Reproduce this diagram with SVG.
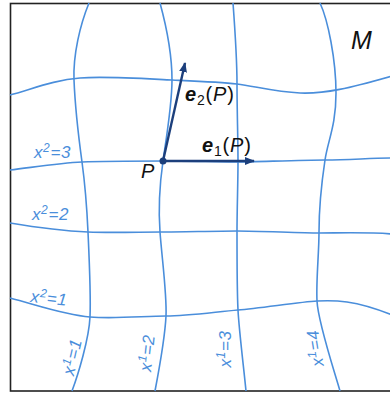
<svg xmlns="http://www.w3.org/2000/svg" width="390" height="393" viewBox="0 0 390 393">
<defs>
<style>
.grid{fill:none;stroke:#4a8edb;stroke-width:1.6}
.lbl{font-family:"Liberation Sans",Arial,sans-serif;font-style:italic;font-size:17px;letter-spacing:0.6px;fill:#4a8edb}
.vec{stroke:#1c3f7c;stroke-width:2.4;fill:none}
.blk{font-family:"Liberation Sans",Arial,sans-serif;fill:#111}
</style>
<marker id="ah" markerUnits="userSpaceOnUse" markerWidth="12" markerHeight="10" refX="9" refY="4" orient="auto">
<path d="M0,0 L10,4 L0,8 Z" fill="#1c3f7c"/>
</marker>
</defs>
<rect width="390" height="393" fill="#fff"/>
<rect x="10.5" y="3.5" width="392" height="387.5" fill="none" stroke="#222" stroke-width="1.6"/>
<g id="connectors">
<path class="grid" d="M89,3 C80,25 73,55 74,80 S79,140 82,162 S87,210 88,232 S91,295 90,317 S78,375 72,391"/>
<path class="grid" d="M160,3 C166,25 172,55 172,80 S166,140 163,161 S158,205 160,232 S167,295 166,316 S159,370 155,391"/>
<path class="grid" d="M233,3 C235,30 237,60 237,84 S238,140 238,161 S237,210 237,232 S237,290 238,310 S244,370 246,391"/>
<path class="grid" d="M320,3 C328,20 336,60 336,93 S328,140 325,160 S319,210 319,232 S316,280 317,301 S334,370 340,391"/>
<path class="grid" d="M10,95 C35,88 55,80 80,78 S150,79 172,80 S220,82 237,84 S275,92 300,93 S350,88 392,76"/>
<path class="grid" d="M10,170 C35,167 60,163 82,162 S140,161 163,161 S220,162 237,162 S300,160 325,160 S370,158 392,158"/>
<path class="grid" d="M10,223 C40,228 65,231 88,232 S140,232 161,232 S215,231 237,231 S300,233 319,233 S370,232 392,234"/>
<path class="grid" d="M10,298 C40,306 65,315 90,317 S145,316 166,316 S215,312 238,310 S300,302 317,301 S355,300 392,315"/>
<line class="vec" x1="163" y1="161" x2="254" y2="161" marker-end="url(#ah)"/>
<line class="vec" x1="163" y1="161" x2="185" y2="63" marker-end="url(#ah)"/>
</g>
<g id="P">
<circle cx="163" cy="161" r="3.5" fill="#1c3f7c"/>
<text class="blk" x="141" y="178" font-size="20" font-style="italic">P</text>
</g>
<g id="M"><text class="blk" x="351" y="49" font-size="25" font-style="italic">M</text></g>
<g id="e1"><text class="blk" x="202" y="152" font-size="20" letter-spacing="0.8"><tspan font-weight="bold" font-style="italic">e</tspan><tspan font-size="14" dy="4">1</tspan><tspan dy="-4">(</tspan><tspan font-style="italic">P</tspan>)</text></g>
<g id="e2"><text class="blk" x="185" y="101" font-size="20" letter-spacing="0.8"><tspan font-weight="bold" font-style="italic">e</tspan><tspan font-size="14" dy="4">2</tspan><tspan dy="-4">(</tspan><tspan font-style="italic">P</tspan>)</text></g>
<g id="lab-x2-3"><text class="lbl" x="34" y="158">x<tspan font-size="12" dy="-6">2</tspan><tspan dy="6">=3</tspan></text></g>
<g id="lab-x2-2"><text class="lbl" x="32" y="220">x<tspan font-size="12" dy="-6">2</tspan><tspan dy="6">=2</tspan></text></g>
<g id="lab-x2-1"><text class="lbl" transform="translate(30,302) rotate(6)">x<tspan font-size="12" dy="-6">2</tspan><tspan dy="6">=1</tspan></text></g>
<g id="lab-x1-1"><text class="lbl" text-anchor="middle" transform="translate(73,357) rotate(-77)" y="5">x<tspan font-size="12" dy="-6">1</tspan><tspan dy="6">=1</tspan></text></g>
<g id="lab-x1-2"><text class="lbl" text-anchor="middle" transform="translate(148,353) rotate(-84)" y="5">x<tspan font-size="12" dy="-6">1</tspan><tspan dy="6">=2</tspan></text></g>
<g id="lab-x1-3"><text class="lbl" text-anchor="middle" transform="translate(226,349) rotate(-90)" y="5">x<tspan font-size="12" dy="-6">1</tspan><tspan dy="6">=3</tspan></text></g>
<g id="lab-x1-4"><text class="lbl" text-anchor="middle" transform="translate(316,348) rotate(-99)" y="5">x<tspan font-size="12" dy="-6">1</tspan><tspan dy="6">=4</tspan></text></g>
</svg>
